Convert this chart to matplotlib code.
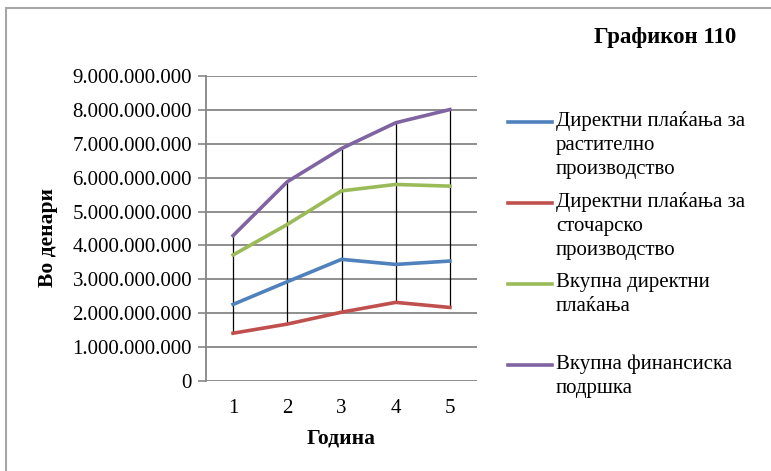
import matplotlib.pyplot as plt
from matplotlib.lines import Line2D
from matplotlib.patches import Rectangle

plt.rcParams['font.family'] = ['Liberation Serif', 'DejaVu Serif']

years = [1, 2, 3, 4, 5]
# values in denars
rastitelno = [2.26e9, 2.93e9, 3.59e9, 3.44e9, 3.54e9]
stocarsko = [1.41e9, 1.68e9, 2.03e9, 2.32e9, 2.17e9]
vkupno_direktni = [3.72e9, 4.62e9, 5.61e9, 5.80e9, 5.75e9]
vkupno_finansiska = [4.29e9, 5.88e9, 6.86e9, 7.62e9, 8.01e9]

labels = ["Директни плаќања за\nрастително\nпроизводство",
          "Директни плаќања за\nсточарско\nпроизводство",
          "Вкупна директни\nплаќања",
          "Вкупна финансиска\nподршка"]
colors = ['#4F81BD', '#C0504D', '#9BBB59', '#8064A2']
series = [rastitelno, stocarsko, vkupno_direktni, vkupno_finansiska]

fig = plt.figure(figsize=(7.71, 4.71), dpi=100)
ax = fig.add_axes([206/771, 1 - 381/471, 271/771, 305/471])

# outer frame
fig.patches.append(Rectangle((6/771, -0.1), 1.2, 1.1 - 8/471, transform=fig.transFigure,
                             fill=False, edgecolor='#a6a6a6', linewidth=1.5))

# high-low lines
lows = [min(v) for v in zip(*series)]
highs = [max(v) for v in zip(*series)]
ax.vlines(years, lows, highs, color='black', linewidth=0.9, zorder=2)

for vals, c in zip(series, colors):
    ax.plot(years, vals, color=c, linewidth=2.6, zorder=3)

ax.set_xlim(0.5, 5.5)
ax.set_ylim(0, 9e9)
yt = [i * 1e9 for i in range(10)]
ax.set_yticks(yt)
ax.set_yticklabels([f"{int(v):,}".replace(',', '.') for v in yt], fontsize=15)
ax.set_xticks(years)
ax.set_xticklabels([str(y) for y in years], fontsize=15)
ax.tick_params(axis='y', length=6, color='#868686', width=1.2, pad=4)
ax.tick_params(axis='x', length=0, pad=13)
ax.grid(axis='y', color='#868686', linewidth=1.3, zorder=1)
for s in ['top', 'right', 'bottom']:
    ax.spines[s].set_visible(False)
ax.spines['left'].set_color('#868686')
ax.spines['left'].set_linewidth(1.3)

ax.set_ylabel("Во денари", fontsize=15.5, fontweight='bold')
ax.yaxis.set_label_coords(-0.545, 0.47)
ax.set_xlabel("Година", fontsize=15.5, fontweight='bold')
ax.xaxis.set_label_coords(0.5, -0.155)

fig.text(665/771, 1 - 37/471, "Графикон 110", fontsize=16.5, fontweight='bold',
         ha='center', va='center')

# legend, handle aligned with the first text line
y0 = 122
for i, (lab, c) in enumerate(zip(labels, colors)):
    yy = 1 - (y0 + i * 81) / 471
    fig.add_artist(Line2D([508/771, 552/771], [yy, yy], color=c, linewidth=2.6,
                          transform=fig.transFigure))
    fig.text(556/771, yy + 11/471, lab, fontsize=15, ha='left', va='top',
             linespacing=1.36)

fig.savefig('out.png', dpi=100)
